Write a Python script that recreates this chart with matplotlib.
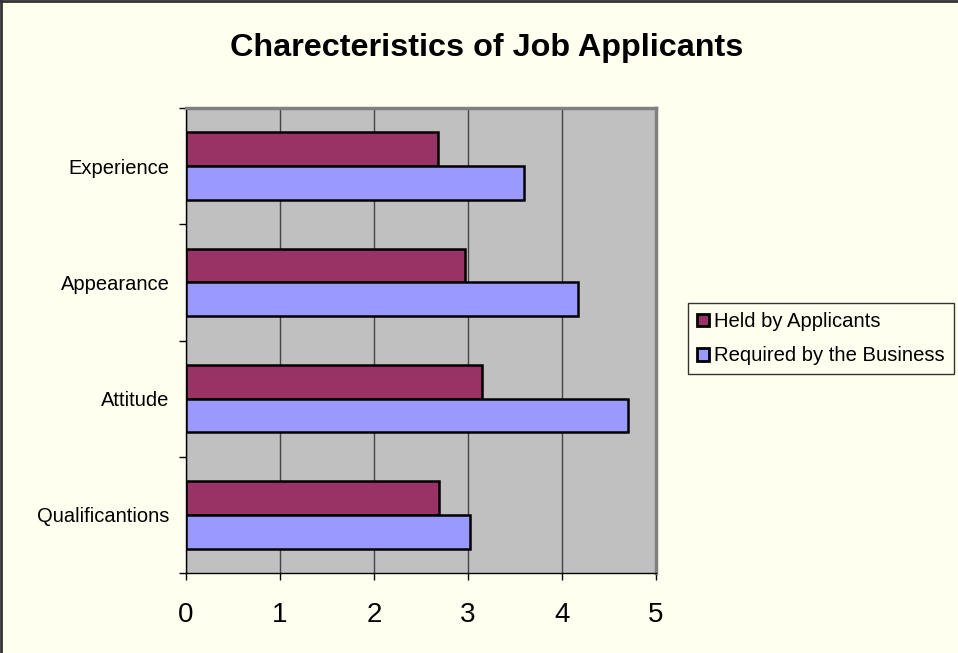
import numpy as np
import matplotlib
matplotlib.use("Agg")
import matplotlib.pyplot as plt
from matplotlib.lines import Line2D

# ---------------------------
# Data
# ---------------------------
categories = ["Experience", "Appearance", "Attitude", "Qualificantions"]
held = [2.68, 2.97, 3.15, 2.69]
required = [3.60, 4.17, 4.70, 3.02]
series_names = ["Held by Applicants", "Required by the Business"]
x_ticks = [0, 1, 2, 3, 4, 5]

held_color = "#993366"
required_color = "#9999FF"
bg_color = "#FFFFF0"

plt.rcParams["font.family"] = ["Liberation Sans", "DejaVu Sans"]

# ---------------------------
# Figure
# ---------------------------
fig = plt.figure(figsize=(9.58, 6.53), dpi=100, facecolor=bg_color)
ax = fig.add_axes([186 / 958, 1 - 573 / 653, 470 / 958, 465 / 653])
ax.set_facecolor("#C0C0C0")

y = np.arange(len(categories))
bar_h = 0.29
ax.barh(y - bar_h / 2, held, height=bar_h, color=held_color,
        edgecolor="black", linewidth=1.8, label=series_names[0], zorder=3)
ax.barh(y + bar_h / 2, required, height=bar_h, color=required_color,
        edgecolor="black", linewidth=1.8, label=series_names[1], zorder=3)

ax.set_xlim(0, 5)
ax.set_ylim(len(categories) - 0.5, -0.5)

# x axis
ax.set_xticks(x_ticks)
ax.set_xticklabels([str(t) for t in x_ticks], fontsize=20)
ax.tick_params(axis="x", direction="out", length=5, width=1, pad=16)
ax.xaxis.grid(True, color="#444444", linewidth=1, zorder=1)

# y axis: labels centred, ticks at category edges
ax.set_yticks(y)
ax.set_yticklabels(categories, fontsize=14.5)
ax.tick_params(axis="y", which="major", length=0, pad=12)
ax.set_yticks(np.arange(len(categories) + 1) - 0.5, minor=True)
ax.tick_params(axis="y", which="minor", direction="out", length=5, width=1)

for side in ["top", "right"]:
    ax.spines[side].set_color("#808080")
    ax.spines[side].set_linewidth(2.5)
for side in ["left", "bottom"]:
    ax.spines[side].set_color("black")
    ax.spines[side].set_linewidth(1)

# ---------------------------
# Title and legend
# ---------------------------
fig.text(0.508, 1 - 48 / 653, "Charecteristics of Job Applicants",
         ha="center", va="center", fontsize=23.3, fontweight="bold")

leg = fig.legend(loc="upper left", bbox_to_anchor=(688 / 958, 1 - 303 / 653),
                 fontsize=14.6, frameon=True, fancybox=False,
                 handlelength=0.6, handleheight=0.6, handletextpad=0.25,
                 labelspacing=0.75, borderpad=0.45, borderaxespad=0)
leg.get_frame().set_edgecolor("black")
leg.get_frame().set_linewidth(1)
leg.get_frame().set_facecolor(bg_color)
for h in leg.legend_handles:
    h.set_linewidth(2)

# chart border (top and left visible in the crop)
fig.add_artist(Line2D([0.001, 0.001], [0, 1], transform=fig.transFigure,
                      color="#333333", linewidth=2))
fig.add_artist(Line2D([0, 1], [0.999, 0.999], transform=fig.transFigure,
                      color="#333333", linewidth=2))

fig.savefig("out.png", dpi=100, facecolor=bg_color)
